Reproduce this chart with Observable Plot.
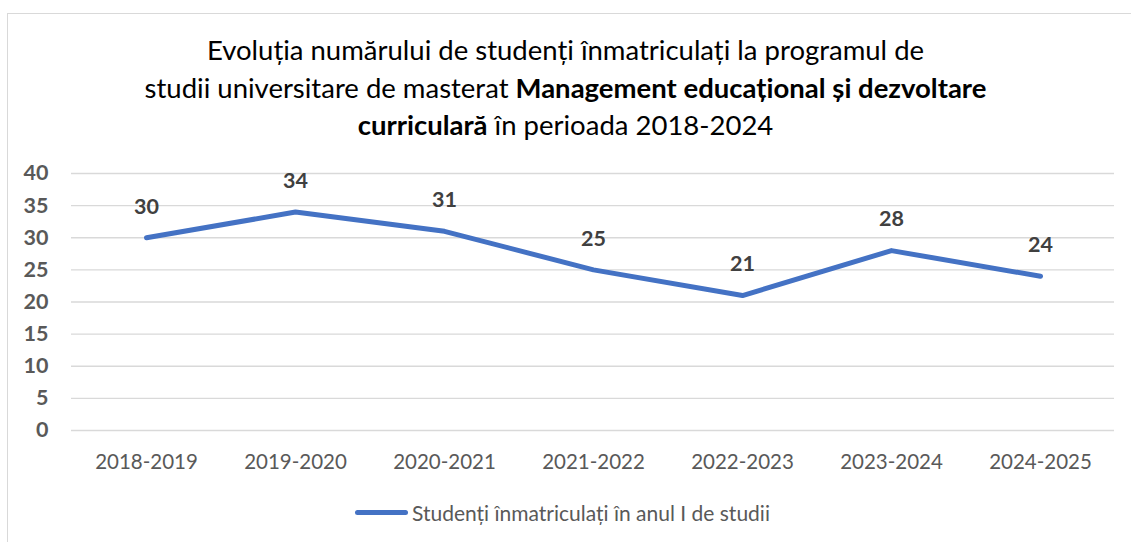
<!DOCTYPE html>
<html>
<head>
<meta charset="utf-8">
<script src="https://cdn.jsdelivr.net/npm/d3@7"></script>
<script src="https://cdn.jsdelivr.net/npm/@observablehq/plot@0.6"></script>
<style>
  html, body { margin: 0; padding: 0; background: #fff; }
  body { width: 1131px; height: 542px; position: relative; overflow: hidden; font-family: Lato, "Open Sans", sans-serif; }
  #frame { position: absolute; left: 7px; top: 13px; width: 1130px; height: 540px; border: 1.3px solid #d9d9d9; box-sizing: border-box; background: #fff; }
  #title { position: absolute; left: 0; width: 1131px; top: 31px; text-align: center; font-size: 27.5px; line-height: 37.5px; color: #000; }
  #chart { position: absolute; left: 0; top: 150px; }
  #legend { position: absolute; top: 500px; left: 355px; display: flex; align-items: center; font-size: 21px; color: #595959; }
  #legend .sw { width: 53px; height: 5px; background: #4472C4; border-radius: 3px; margin-right: 4px; }
</style>
</head>
<body>
<div id="frame"></div>
<div id="title">Evoluția numărului de studenți înmatriculați la programul de<br>studii universitare de masterat <b>Management educațional și dezvoltare<br>curriculară</b> în perioada 2018-2024</div>
<div id="chart"></div>
<div id="legend"><span class="sw"></span><span id="legendText"></span></div>
<script>
const years = ["2018-2019", "2019-2020", "2020-2021", "2021-2022", "2022-2023", "2023-2024", "2024-2025"];
const students = [30, 34, 31, 25, 21, 28, 24];
const yTicks = [0, 5, 10, 15, 20, 25, 30, 35, 40];
const seriesName = "Studenți înmatriculați în anul I de studii";

const data = years.map((y, i) => ({year: y, value: students[i]}));
document.getElementById("legendText").textContent = seriesName;

const chart = Plot.plot({
  width: 1131,
  height: 330,
  marginLeft: 71,
  marginRight: 17,
  marginTop: 23,
  marginBottom: 50,
  style: {fontFamily: "Lato, 'Open Sans', sans-serif", background: "transparent"},
  x: {type: "point", domain: years, padding: 0.5},
  y: {domain: [0, 40]},
  marks: [
    Plot.gridY(yTicks, {stroke: "#d9d9d9", strokeOpacity: 1, strokeWidth: 1.3}),
    Plot.axisY(yTicks, {tickSize: 0, tickPadding: 23, fontSize: 21.5, fontWeight: "bold", fill: "#595959", label: null}),
    Plot.axisX({tickSize: 0, tickPadding: 24, fontSize: 20.5, fill: "#595959", label: null}),
    Plot.line(data, {x: "year", y: "value", stroke: "#4472C4", strokeWidth: 5, strokeLinecap: "round", strokeLinejoin: "round"}),
    Plot.text(data, {x: "year", y: "value", text: d => String(d.value), dy: -31, fontSize: 21.5, fontWeight: "bold", fill: "#404040"})
  ]
});
document.getElementById("chart").appendChild(chart);
</script>
</body>
</html>
